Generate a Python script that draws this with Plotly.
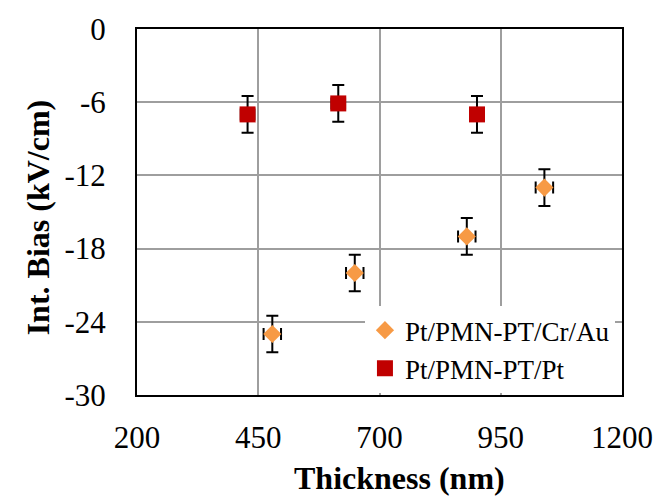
import plotly.graph_objects as go

# Internal bias vs. film thickness for two electrode stacks
cr_au_thickness = [479, 649, 880, 1040]
cr_au_bias = [-25.0, -20.0, -17.0, -13.0]
cr_au_bias_err = [1.5, 1.5, 1.5, 1.5]
cr_au_thick_err = [18, 18, 18, 18]

pt_thickness = [428, 615, 901]
pt_bias = [-7.0, -6.1, -7.0]
pt_bias_err = [1.5, 1.5, 1.5]
pt_thick_err = [14, 14, 14]

x_ticks = [200, 450, 700, 950, 1200]
y_ticks = [0, -6, -12, -18, -24, -30]
y_tick_text = ["0", "-6", "-12", "-18", "-24", "-30"]

FONT = "Liberation Serif, Times New Roman, serif"

fig = go.Figure()

err_style = dict(type="data", symmetric=True, color="black", thickness=2, width=6)

fig.add_trace(go.Scatter(
    x=cr_au_thickness, y=cr_au_bias, mode="markers",
    name="Pt/PMN-PT/Cr/Au",
    marker=dict(symbol="diamond", size=14, color="#F79A45", line=dict(width=0)),
    error_y=dict(array=cr_au_bias_err, **err_style),
    error_x=dict(array=cr_au_thick_err, **err_style),
))

fig.add_trace(go.Scatter(
    x=pt_thickness, y=pt_bias, mode="markers",
    name="Pt/PMN-PT/Pt",
    marker=dict(symbol="square", size=16, color="#C00000", line=dict(width=0)),
    error_y=dict(array=pt_bias_err, **err_style),
    error_x=dict(array=pt_thick_err, **err_style),
))

fig.update_layout(
    width=665, height=504,
    margin=dict(l=137, r=41, t=25, b=109),
    paper_bgcolor="white", plot_bgcolor="white",
    font=dict(family=FONT, color="black", size=30),
    showlegend=True,
    legend=dict(
        x=0.47, y=0.005, xanchor="left", yanchor="bottom",
        bgcolor="white", borderwidth=0,
        font=dict(family=FONT, size=27, color="black"),
        tracegroupgap=0, itemsizing="trace",
    ),
    xaxis=dict(
        range=[200, 1200], tickvals=x_ticks,
        showgrid=True, gridcolor="#9E9E9E", gridwidth=1.5,
        showline=True, linecolor="black", linewidth=2, mirror=True,
        ticks="", zeroline=False,
        tickfont=dict(family=FONT, size=31, color="black"),
        ticklabelstandoff=14,
    ),
    yaxis=dict(
        range=[-30, 0], tickvals=y_ticks, ticktext=y_tick_text,
        showgrid=True, gridcolor="#9E9E9E", gridwidth=1.5,
        showline=True, linecolor="black", linewidth=2, mirror=True,
        ticks="", zeroline=False,
        tickfont=dict(family=FONT, size=31, color="black"),
        ticklabelstandoff=23,
    ),
    annotations=[
        dict(text="<b>Thickness (nm)</b>", xref="paper", yref="paper",
             x=(401 - 137) / 487, y=-(479 - 395) / 370,
             xanchor="center", yanchor="middle", showarrow=False,
             font=dict(family=FONT, size=32, color="black")),
        dict(text="<b>Int. Bias (kV/cm)</b>", xref="paper", yref="paper",
             x=-(137 - 38) / 487, y=(395 - 215) / 370, textangle=-90,
             xanchor="center", yanchor="middle", showarrow=False,
             font=dict(family=FONT, size=32, color="black")),
    ],
)

fig.write_html("out.html")
